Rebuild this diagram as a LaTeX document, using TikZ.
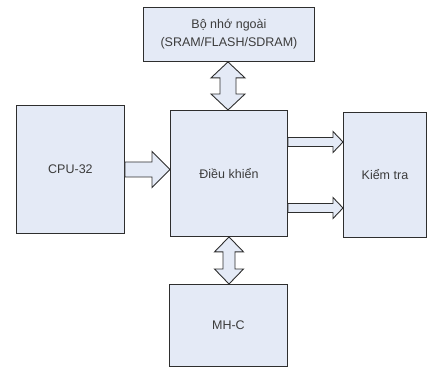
\documentclass[tikz,border=0pt]{standalone}
\usepackage{fontspec}
\setmainfont{Liberation Sans}
\usetikzlibrary{calc}
\definecolor{boxfill}{HTML}{E4EAF6}
\definecolor{boxline}{HTML}{2E2E2E}
\definecolor{textgrey}{HTML}{3C3C3C}
\tikzset{
  block/.style={draw=boxline, fill=boxfill, line width=0.9pt, inner sep=0pt,
    anchor=north west, text=textgrey, align=center,
    font=\fontsize{12.5}{18}\selectfont},
  fatarrow/.style={draw=boxline, fill=boxfill, line width=0.9pt, line join=miter}
}
\begin{document}
\begin{tikzpicture}[x=1pt, y=-1pt]
  \useasboundingbox (0,0) rectangle (428,367);

  % blocks
  \node[block, minimum width=171pt, minimum height=54pt] (mem) at (143,7)
    {Bộ nhớ ngoài\\(SRAM/FLASH/SDRAM)};
  \node[block, minimum width=108pt, minimum height=128pt] (cpu) at (16,105) {CPU-32};
  \node[block, minimum width=117pt, minimum height=126pt] (ctrl) at (170,110) {Điều khiển};
  \node[block, minimum width=83pt, minimum height=125pt] (chk) at (343,112) {Kiểm tra};
  \node[block, minimum width=118pt, minimum height=82pt] (mhc) at (169,284) {MH-C};

  % CPU -> controller
  \draw[fatarrow] let \p1=(cpu.east), \p2=(ctrl.west) in
    (\x1,\y1+7.5pt) -- (\x2-18pt,\y1+7.5pt) -- (\x2-18pt,\y1+18pt)
    -- (\x2,\y1) -- (\x2-18pt,\y1-18pt) -- (\x2-18pt,\y1-7.5pt)
    -- (\x1,\y1-7.5pt) -- cycle;

  % controller -> test unit (two buses)
  \foreach \yy in {142,208}{
    \draw[fatarrow] let \p1=(ctrl.east), \p2=(chk.west), \p3=(0,\yy) in
      (\x1,\y3+4.5pt) -- (\x2-10pt,\y3+4.5pt) -- (\x2-10pt,\y3+10.5pt) -- (\x2,\y3)
      -- (\x2-10pt,\y3-10.5pt) -- (\x2-10pt,\y3-4.5pt) -- (\x1,\y3-4.5pt) -- cycle;
  }

  % external memory <-> controller
  \draw[fatarrow] let \p1=(mem.south), \p2=(ctrl.north) in
    (228pt,\y1) -- (245pt,\y1-16pt) -- (236pt,\y1-16pt) -- (236pt,\y2+16pt) -- (245pt,\y2+16pt)
    -- (228pt,\y2) -- (211pt,\y2+16pt) -- (220pt,\y2+16pt) -- (220pt,\y1-16pt) -- (211pt,\y1-16pt) -- cycle;

  % controller <-> MH-C
  \draw[fatarrow] let \p1=(ctrl.south), \p2=(mhc.north) in
    (229pt,\y1) -- (243.5pt,\y1-15pt) -- (235pt,\y1-15pt) -- (235pt,\y2+15pt) -- (243.5pt,\y2+15pt)
    -- (229pt,\y2) -- (214.5pt,\y2+15pt) -- (223pt,\y2+15pt) -- (223pt,\y1-15pt) -- (214.5pt,\y1-15pt) -- cycle;
\end{tikzpicture}
\end{document}
